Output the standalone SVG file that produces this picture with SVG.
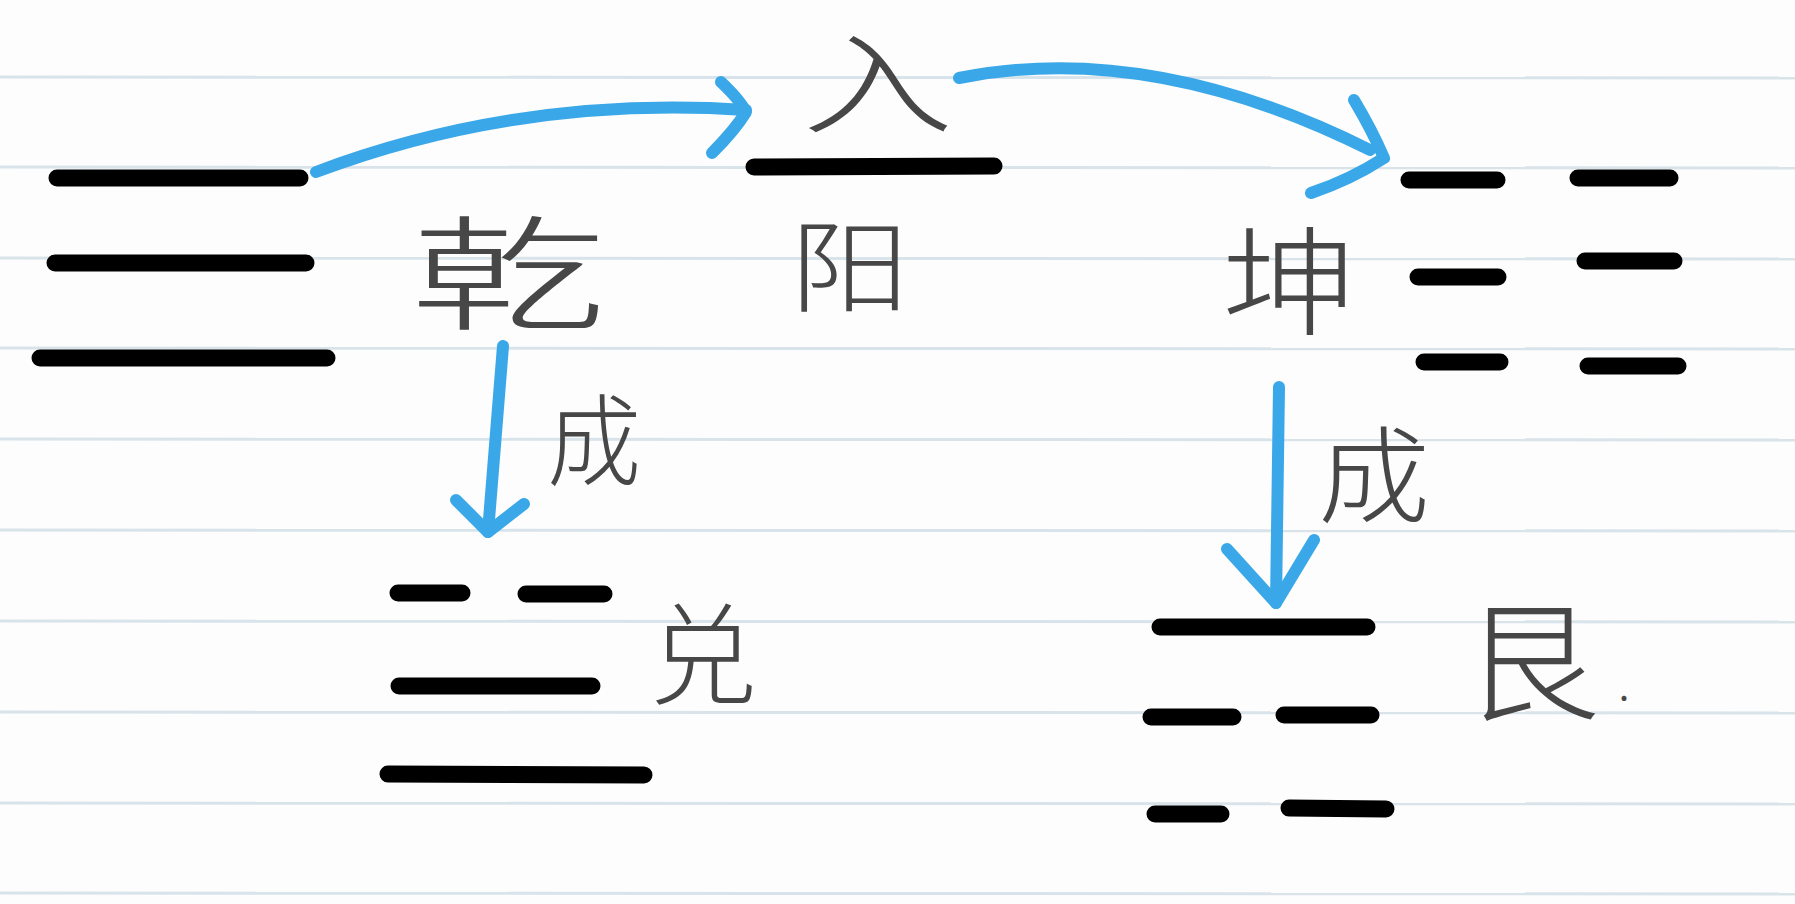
<svg xmlns="http://www.w3.org/2000/svg" width="1795" height="904" viewBox="0 0 1795 904">
<style>
.rule{stroke:#d9e3ea;stroke-width:3}
.yao{stroke:#000;stroke-width:17;stroke-linecap:round;fill:none}
.arr{stroke:#3aa8e8;stroke-width:12;stroke-linecap:round;stroke-linejoin:round;fill:none}
.hw{font-family:"Noto Sans CJK SC","Noto Sans CJK JP",sans-serif;font-weight:200;fill:#474747}
</style>
<rect width="1795" height="904" fill="#fdfdfd"/>
<g id="ruling">
<line class="rule" x1="0" y1="77" x2="1795" y2="78"/>
<line class="rule" x1="0" y1="167" x2="1795" y2="168"/>
<line class="rule" x1="0" y1="258" x2="1795" y2="259"/>
<line class="rule" x1="0" y1="348" x2="1795" y2="349"/>
<line class="rule" x1="0" y1="439" x2="1795" y2="440"/>
<line class="rule" x1="0" y1="530" x2="1795" y2="531"/>
<line class="rule" x1="0" y1="621" x2="1795" y2="622"/>
<line class="rule" x1="0" y1="712" x2="1795" y2="713"/>
<line class="rule" x1="0" y1="803" x2="1795" y2="804"/>
<line class="rule" x1="0" y1="893" x2="1795" y2="894"/>
</g>
<g id="qian">
<line class="yao" x1="57" y1="178" x2="300" y2="178"/>
<line class="yao" x1="55" y1="263" x2="306" y2="263"/>
<line class="yao" x1="40" y1="358" x2="327" y2="358"/>
<text class="hw" x="410" y="320" font-size="124" textLength="196" lengthAdjust="spacingAndGlyphs">乾</text>
</g>
<g id="yang">
<text class="hw" x="802" y="125" font-size="110" textLength="152" lengthAdjust="spacingAndGlyphs">入</text>
<line class="yao" x1="754" y1="167" x2="994" y2="166"/>
<text class="hw" x="790" y="304" font-size="100" textLength="120" lengthAdjust="spacingAndGlyphs">阳</text>
</g>
<g id="kun">
<line class="yao" x1="1409" y1="180" x2="1497" y2="180"/>
<line class="yao" x1="1578" y1="178" x2="1670" y2="178"/>
<line class="yao" x1="1418" y1="277" x2="1498" y2="277"/>
<line class="yao" x1="1585" y1="261" x2="1674" y2="261"/>
<line class="yao" x1="1424" y1="362" x2="1500" y2="362"/>
<line class="yao" x1="1588" y1="366" x2="1678" y2="366"/>
<text class="hw" x="1222" y="326" font-size="118" textLength="135" lengthAdjust="spacingAndGlyphs">坤</text>
</g>
<g id="dui">
<line class="yao" x1="398" y1="593" x2="462" y2="593"/>
<line class="yao" x1="526" y1="594" x2="604" y2="594"/>
<line class="yao" x1="399" y1="686" x2="592" y2="686"/>
<line class="yao" x1="388" y1="774" x2="644" y2="775"/>
<text class="hw" x="649" y="696" font-size="110" textLength="108" lengthAdjust="spacingAndGlyphs">兑</text>
</g>
<g id="gen">
<line class="yao" x1="1160" y1="627" x2="1367" y2="627"/>
<line class="yao" x1="1151" y1="717" x2="1233" y2="717"/>
<line class="yao" x1="1284" y1="715" x2="1371" y2="715"/>
<line class="yao" x1="1155" y1="814" x2="1221" y2="814"/>
<line class="yao" x1="1289" y1="808" x2="1386" y2="809"/>
<text class="hw" x="1462" y="710" font-size="130" textLength="138" lengthAdjust="spacingAndGlyphs">艮</text>
<text class="hw" x="1618" y="700" font-size="48">.</text>
</g>
<g id="connectors">
<path class="arr" d="M316,172 Q520,95 746,110"/>
<path class="arr" d="M721,82 Q740,100 746,112 Q735,130 712,153"/>
<path class="arr" d="M959,78 Q1150,40 1370,150"/>
<path class="arr" d="M1354,100 Q1372,130 1384,158 Q1350,180 1311,193"/>
<path class="arr" d="M503,346 L488,532"/>
<path class="arr" d="M456,500 L488,532 L524,504"/>
<path class="arr" d="M1279,387 L1276,603"/>
<path class="arr" d="M1227,549 L1276,603 L1314,540"/>
<text class="hw" x="547" y="478" font-size="100" textLength="94" lengthAdjust="spacingAndGlyphs">成</text>
<text class="hw" x="1318" y="514" font-size="105" textLength="112" lengthAdjust="spacingAndGlyphs">成</text>
</g>
</svg>
